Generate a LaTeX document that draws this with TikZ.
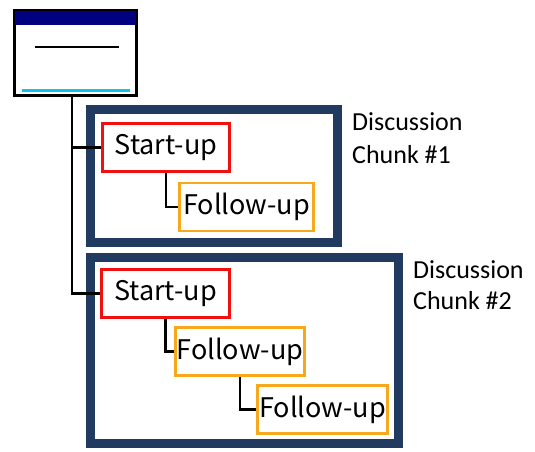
\documentclass[tikz,border=0pt]{standalone}
\usepackage{fontspec}
\setmainfont{Carlito}
\newfontfamily\gothic{Noto Sans CJK JP}
\definecolor{navyhead}{HTML}{000080}
\definecolor{chunkblue}{HTML}{203A60}
\definecolor{startred}{HTML}{F01010}
\definecolor{followorange}{HTML}{F8A81C}
\definecolor{accentcyan}{HTML}{10C0F0}
\tikzset{
  chunkbox/.style={draw=chunkblue, line width=9pt, inner sep=0pt},
  startbox/.style={draw=startred, line width=2.6pt, fill=white, inner sep=0pt,
    minimum height=48pt, font=\gothic\fontsize{27}{30}\selectfont},
  followbox/.style={draw=followorange, line width=2.6pt, fill=white, inner sep=0pt,
    minimum height=48pt, font=\gothic\fontsize{27}{30}\selectfont},
  link/.style={line width=2.6pt, black},
  chunklabel/.style={anchor=west, align=left, inner sep=0pt}
}
\begin{document}
\begin{tikzpicture}[x=1pt, y=-1pt]
\useasboundingbox (0,0) rectangle (535,452);
\fill[white] (0,0) rectangle (535,452);

% window icon
\node[draw, line width=1.8pt, fill=white, minimum width=121pt, minimum height=84pt, inner sep=0pt] (win) at (75.5,53) {};
\fill[navyhead] (win.north west) rectangle ([yshift=-15pt]win.north east);
\draw[line width=1.8pt] (win.north west) rectangle (win.south east);
\coordinate (rule) at (35,47);
\draw[line width=1.5pt] (rule) -- ++(84,0);
\coordinate (under) at (22,90);
\draw[accentcyan, line width=3pt] (under) -- ++(108,0);

% discussion chunks
\node[chunkbox, minimum width=247pt, minimum height=133pt] (c1) at (214,176) {};
\node[chunkbox, minimum width=308pt, minimum height=186pt] (c2) at (244.5,350.5) {};

\node[chunklabel, font=\fontsize{26}{33}\selectfont] (l1) at (352,138.5) {Discussion\\Chunk \#1};
\node[chunklabel, font=\fontsize{26}{31}\selectfont] (l2) at (413,285) {Discussion\\Chunk \#2};

% utterance boxes
\node[startbox, minimum width=127pt] (s1) at (166,147.5) {Start-up};
\node[followbox, minimum width=134pt] (f1) at (246.5,207) {Follow-up};
\node[startbox, minimum width=128pt] (s2) at (165.5,293.5) {Start-up};
\node[followbox, minimum width=129pt] (f2) at (240,351.5) {Follow-up};
\node[followbox, minimum width=130pt] (f3) at (322.5,409.5) {Follow-up};

% tree connectors
\coordinate (trunk) at (72,96);
\draw[link] (trunk) |- (s2.west);
\draw[link] (trunk |- s1.west) -- (s1.west);
\draw[link] (s1.south) |- (f1.west);
\draw[link] (s2.south) |- (f2.west);
\draw[link] (f2.south) |- (f3.west);
\end{tikzpicture}
\end{document}
